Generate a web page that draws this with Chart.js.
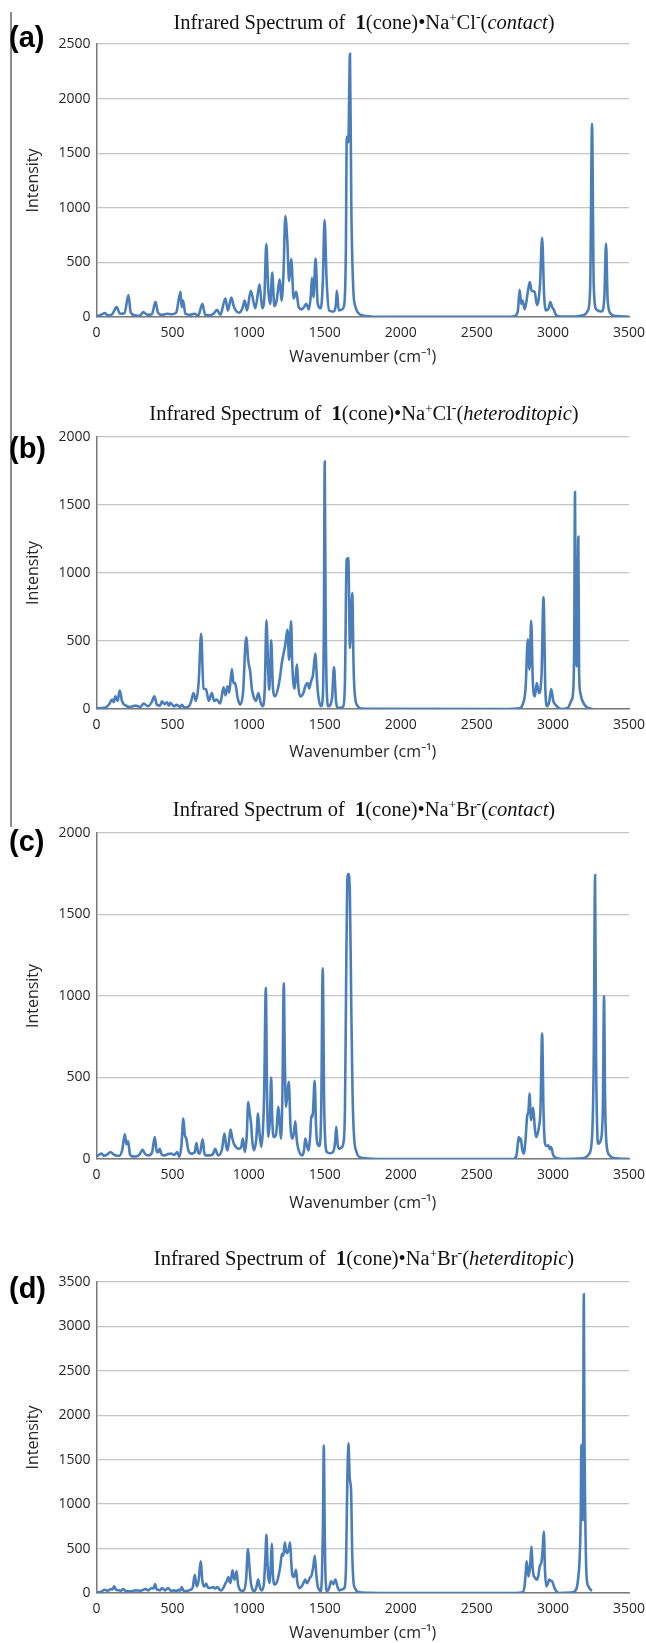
<!DOCTYPE html>
<html>
<head>
<meta charset="utf-8">
<title>Infrared spectra</title>
<script src="https://cdn.jsdelivr.net/npm/chart.js@4.4.1/dist/chart.umd.min.js"></script>
<style>
    html, body { margin: 0; padding: 0; background: #fff; }
    #page { position: relative; width: 646px; height: 1643px; overflow: hidden; }
    #page canvas { position: absolute; left: 0; }
    #side-rule { position: absolute; left: 10px; top: 12px; width: 2px; height: 815px; background: #8c8c8c; }
</style>
</head>
<body>
<div id="page">
    <div id="side-rule"></div>
    <canvas id="ir-a"></canvas>
    <canvas id="ir-b"></canvas>
    <canvas id="ir-c"></canvas>
    <canvas id="ir-d"></canvas>
</div>
<script>
// [wavenumber (cm-1), intensity]
const spectrumA = [
    [0,5],[30,20],[55,37],[73,15],[103,25],[132,90],[154,30],[184,35],[210,200],[225,40],[254,15],[284,10],
    [307,45],[334,20],[364,25],[388,140],[404,40],[434,20],[464,30],[494,25],[524,40],[552,230],[560,90],
    [569,150],[584,30],[614,20],[644,30],[669,15],[696,120],[714,20],[744,15],[769,30],[792,65],[814,20],
    [847,170],[864,60],[886,178],[904,90],[939,40],[959,80],[974,150],[989,60],[1014,240],[1044,80],
    [1072,300],[1089,80],[1104,200],[1116,667],[1129,250],[1142,120],[1155,407],[1169,100],[1184,150],
    [1204,345],[1216,150],[1229,400],[1241,924],[1254,700],[1266,330],[1280,530],[1296,170],[1313,230],
    [1329,90],[1349,70],[1364,90],[1379,120],[1396,70],[1409,200],[1416,360],[1426,180],[1440,535],
    [1454,120],[1474,80],[1487,300],[1499,888],[1512,350],[1529,60],[1559,50],[1574,120],[1580,240],
    [1592,60],[1614,70],[1629,120],[1639,600],[1645,1650],[1655,1600],[1666,2410],[1675,1000],[1688,250],
    [1703,90],[1722,35],[1750,15],[1800,5],[1900,1],[2700,1],[2750,10],[2770,60],[2781,250],[2792,120],
    [2800,150],[2815,70],[2835,230],[2848,320],[2860,240],[2880,230],[2895,110],[2905,150],[2915,300],
    [2929,725],[2942,200],[2955,60],[2972,80],[2983,138],[2995,90],[3005,70],[3020,20],[3050,5],[3150,5],
    [3200,15],[3230,60],[3245,280],[3257,1770],[3268,300],[3285,70],[3320,50],[3338,180],[3349,673],
    [3360,150],[3380,30],[3420,8],[3500,2]
];

const spectrumB = [
    [0,5],[58,10],[83,35],[102,69],[113,50],[124,93],[138,60],[153,135],[168,56],[193,25],[218,15],[258,25],
    [288,15],[310,40],[338,20],[363,50],[380,93],[398,30],[418,25],[430,56],[448,35],[463,49],[475,25],
    [485,45],[508,20],[528,30],[548,15],[561,30],[578,10],[608,20],[623,60],[638,118],[653,60],[671,190],
    [688,553],[703,150],[719,147],[738,60],[758,118],[773,60],[791,70],[813,40],[835,160],[848,100],
    [861,167],[872,120],[890,294],[900,190],[911,190],[928,80],[944,32],[963,120],[984,527],[998,350],
    [1010,277],[1021,150],[1032,93],[1048,60],[1064,118],[1078,50],[1091,20],[1106,150],[1117,652],
    [1128,300],[1135,142],[1142,300],[1148,505],[1160,150],[1174,93],[1196,167],[1208,250],[1218,338],
    [1228,400],[1239,460],[1255,583],[1266,362],[1279,644],[1286,350],[1294,190],[1303,150],[1316,326],
    [1328,150],[1338,93],[1360,118],[1373,170],[1388,190],[1398,150],[1410,203],[1423,250],[1438,407],
    [1450,200],[1458,93],[1476,20],[1488,100],[1495,700],[1500,1820],[1506,700],[1513,150],[1524,20],
    [1548,80],[1561,309],[1574,60],[1589,7],[1608,10],[1622,20],[1633,200],[1644,1098],[1655,1110],
    [1666,448],[1681,853],[1690,300],[1699,93],[1718,20],[1742,3],[1800,1],[2700,0],[2780,5],[2800,30],
    [2820,150],[2835,510],[2846,290],[2857,648],[2868,200],[2881,93],[2894,190],[2908,117],[2925,250],
    [2938,822],[2950,150],[2962,20],[2975,50],[2989,147],[3002,60],[3016,32],[3056,0],[3100,10],
    [3120,60],[3132,117],[3140,500],[3145,1596],[3150,600],[3156,313],[3162,700],[3167,1266],[3172,264],
    [3180,120],[3191,68],[3220,15],[3258,2]
];

const spectrumC = [
    [0,15],[15,25],[32,33],[50,20],[73,29],[92,43],[110,30],[127,22],[150,20],[170,60],[186,152],[197,90],
    [207,110],[220,30],[234,16],[260,15],[285,30],[302,57],[320,30],[342,22],[365,40],[383,135],[395,50],
    [405,40],[415,63],[430,25],[450,22],[470,30],[490,33],[510,25],[531,43],[544,12],[558,80],[571,248],
    [580,150],[590,125],[605,50],[625,33],[645,40],[657,98],[668,40],[679,33],[698,121],[708,40],[720,22],
    [746,22],[765,30],[781,63],[790,40],[800,22],[825,60],[841,156],[852,80],[862,53],[872,120],[881,180],
    [892,130],[903,94],[920,70],[935,63],[950,70],[962,125],[975,43],[988,150],[997,350],[1007,280],
    [1016,217],[1025,100],[1035,53],[1050,120],[1062,279],[1072,150],[1083,74],[1095,200],[1102,402],
    [1113,1051],[1121,400],[1129,135],[1140,250],[1148,500],[1155,250],[1164,135],[1180,150],[1196,320],
    [1205,200],[1213,125],[1222,400],[1231,1078],[1238,600],[1245,320],[1255,400],[1264,473],[1275,200],
    [1285,125],[1296,150],[1307,232],[1316,120],[1326,63],[1353,22],[1365,60],[1372,125],[1382,90],
    [1393,53],[1405,150],[1412,268],[1420,260],[1434,479],[1443,200],[1452,94],[1465,80],[1477,300],
    [1487,1170],[1497,300],[1514,43],[1535,35],[1555,43],[1568,100],[1576,197],[1585,90],[1595,63],
    [1610,70],[1622,94],[1633,300],[1640,1000],[1648,1700],[1655,1748],[1665,1650],[1675,900],[1683,400],
    [1692,150],[1710,40],[1730,12],[1780,3],[1850,0],[2740,0],[2760,20],[2770,100],[2776,135],[2783,110],
    [2789,125],[2798,60],[2808,33],[2820,120],[2830,258],[2840,300],[2846,402],[2856,238],[2870,316],
    [2880,200],[2889,135],[2898,150],[2908,197],[2918,300],[2929,770],[2938,300],[2948,94],[2960,80],
    [2970,84],[2980,60],[2988,74],[3000,30],[3010,12],[3064,0],[3200,5],[3239,33],[3258,150],[3268,600],
    [3277,1742],[3284,600],[3292,150],[3298,94],[3314,115],[3328,300],[3336,1000],[3343,350],[3352,94],
    [3370,25],[3401,6],[3500,0]
];

const spectrumD = [
    [0,5],[30,15],[54,37],[75,25],[94,45],[105,40],[116,75],[130,35],[148,30],[160,25],[175,45],[190,25],
    [202,19],[230,20],[256,30],[290,25],[323,45],[340,30],[363,56],[375,50],[385,101],[395,40],[404,37],
    [418,30],[431,56],[450,30],[471,56],[490,25],[511,30],[525,20],[538,37],[550,25],[560,67],[570,30],
    [579,19],[600,25],[619,37],[632,60],[646,206],[655,100],[660,75],[672,150],[680,300],[686,356],
    [695,150],[705,75],[713,80],[721,105],[730,70],[740,56],[755,60],[767,67],[780,50],[794,67],[808,40],
    [821,30],[835,60],[848,112],[858,140],[867,180],[874,130],[880,112],[887,180],[894,255],[900,200],
    [907,150],[914,200],[921,243],[930,100],[942,37],[955,25],[969,30],[983,150],[996,494],[1005,300],
    [1015,112],[1025,40],[1036,19],[1050,60],[1063,150],[1073,70],[1085,30],[1100,100],[1110,400],
    [1117,655],[1126,250],[1136,112],[1145,300],[1152,554],[1160,200],[1171,94],[1185,120],[1198,206],
    [1208,300],[1219,442],[1228,420],[1238,569],[1245,480],[1252,449],[1262,480],[1273,569],[1280,350],
    [1287,206],[1298,180],[1311,262],[1320,120],[1333,56],[1350,80],[1365,130],[1373,150],[1382,110],
    [1392,131],[1402,170],[1413,195],[1425,300],[1435,420],[1445,200],[1454,75],[1463,40],[1472,19],
    [1482,200],[1488,700],[1494,1658],[1500,700],[1506,150],[1516,19],[1530,60],[1542,131],[1556,100],
    [1570,150],[1582,80],[1596,30],[1612,40],[1629,56],[1640,300],[1648,1200],[1656,1684],[1664,1300],
    [1674,1123],[1680,500],[1688,150],[1700,50],[1723,11],[1780,3],[1850,0],[2750,0],[2800,7],[2812,60],
    [2820,200],[2827,356],[2835,250],[2840,187],[2850,300],[2859,524],[2866,300],[2872,206],[2883,170],
    [2894,150],[2905,200],[2913,300],[2925,350],[2933,500],[2940,692],[2948,250],[2956,75],[2966,100],
    [2975,150],[2984,140],[2994,131],[3002,100],[3010,56],[3025,15],[3042,0],[3120,5],[3150,30],
    [3165,150],[3177,449],[3183,900],[3187,1666],[3191,1200],[3195,823],[3199,1800],[3203,3361],
    [3207,1800],[3212,898],[3217,400],[3222,168],[3235,70],[3252,30],[3257,25]
];

const yMaxima = [2500, 2000, 2000, 3500];
const panelLetters = ['(a)', '(b)', '(c)', '(d)'];
const anions = ['Cl', 'Cl', 'Br', 'Br'];
const pairings = ['contact', 'heteroditopic', 'contact', 'heterditopic'];
const xAxisTitle = 'Wavenumber (cm\u207B\u00B9)';
const yAxisTitle = 'Intensity';

// page geometry, in px from the top of the page
const panelBoxes = [
    { top: 0,    height: 372, plotTop: 44,  plotBottom: 317,  xTitleY: 357,  titleY: 22,   letterY: 39 },
    { top: 372,  height: 393, plotTop: 437, plotBottom: 709,  xTitleY: 752,  titleY: 413,  letterY: 450 },
    { top: 765,  height: 450, plotTop: 833, plotBottom: 1159, xTitleY: 1203, titleY: 809,  letterY: 843 },
    { top: 1215, height: 428, plotTop: 1282, plotBottom: 1593, xTitleY: 1633, titleY: 1258, letterY: 1290 }
];

const BLUE = '#4a7ebb';
const SERIF = '"Liberation Serif", "Times New Roman", serif';
const AXIS_FONT = { family: '"Open Sans", sans-serif', size: 14 };
const AXIS_TITLE_FONT = { family: '"Open Sans", sans-serif', size: 16 };

Chart.defaults.font.family = '"Open Sans", sans-serif';
Chart.defaults.color = '#262626';

// title with bold "1", superscript charges and italic pairing word, plus the panel letter
const richTitle = {
    id: 'richTitle',
    afterDraw(chart, args, opts) {
        const ctx = chart.ctx;
        const runs = [
            { text: 'Infrared Spectrum of  ', font: `20.5px ${SERIF}` },
            { text: '1', font: `bold 20.5px ${SERIF}` },
            { text: '(cone)\u2022Na', font: `20.5px ${SERIF}` },
            { text: '+', font: `13px ${SERIF}`, rise: 7 },
            { text: opts.anion, font: `20.5px ${SERIF}` },
            { text: '-', font: `14px ${SERIF}`, rise: 8 },
            { text: '(', font: `20.5px ${SERIF}` },
            { text: opts.pairing, font: `italic 20.5px ${SERIF}` },
            { text: ')', font: `20.5px ${SERIF}` }
        ];
        ctx.save();
        ctx.fillStyle = '#111';
        ctx.textBaseline = 'alphabetic';
        ctx.textAlign = 'left';
        const widths = runs.map(r => { ctx.font = r.font; return ctx.measureText(r.text).width; });
        const total = widths.reduce((s, w) => s + w, 0);
        let x = opts.centerX - total / 2;
        runs.forEach((r, i) => {
            ctx.font = r.font;
            ctx.fillText(r.text, x, opts.baseline - (r.rise || 0));
            x += widths[i];
        });

        ctx.fillStyle = '#000';
        ctx.font = 'bold 29px "Liberation Sans", Arial, sans-serif';
        ctx.textBaseline = 'middle';
        ctx.fillText(opts.letter, 9, opts.letterY);
        ctx.restore();
    }
};

function buildPanel(index, spectrum) {
    const box = panelBoxes[index];
    const canvas = document.getElementById('ir-' + 'abcd'[index]);
    canvas.width = 646;
    canvas.height = box.height;
    canvas.style.top = box.top + 'px';

    const padLeft = 24;
    const plotLeft = 96.5;
    const xAxisHeight = box.height - (box.plotBottom - box.top);
    const titleLine = AXIS_TITLE_FONT.size * 1.2;

    return new Chart(canvas, {
        type: 'line',
        data: {
            datasets: [{
                data: spectrum.map(([x, y]) => ({ x, y })),
                borderColor: BLUE,
                borderWidth: 2.6,
                pointRadius: 0,
                cubicInterpolationMode: 'monotone',
                fill: false
            }]
        },
        options: {
            responsive: false,
            animation: false,
            devicePixelRatio: 1,
            layout: { padding: { left: padLeft, right: 17, top: box.plotTop - box.top, bottom: 0 } },
            plugins: {
                legend: { display: false },
                tooltip: { enabled: false },
                richTitle: {
                    centerX: 364,
                    baseline: box.titleY - box.top + 7,
                    letter: panelLetters[index],
                    letterY: box.letterY - box.top,
                    anion: anions[index],
                    pairing: pairings[index]
                }
            },
            scales: {
                x: {
                    type: 'linear',
                    min: 0,
                    max: 3500,
                    afterFit: (scale) => {
                        scale.height = xAxisHeight;
                        // let the "3500" label run into the right margin, as in the original
                        scale.paddingRight = 0;
                        scale.paddingLeft = 0;
                    },
                    grid: { display: false, drawTicks: false },
                    border: { display: true, color: '#7a7a7a', width: 1.5 },
                    ticks: {
                        stepSize: 500, padding: 8, maxRotation: 0, autoSkip: false,
                        font: AXIS_FONT, color: '#262626',
                        callback: (v) => String(v)
                    },
                    title: {
                        display: true,
                        text: xAxisTitle,
                        font: AXIS_TITLE_FONT,
                        color: '#262626',
                        padding: { top: 0, bottom: (box.top + box.height) - box.xTitleY - titleLine / 2 }
                    }
                },
                y: {
                    min: 0,
                    max: yMaxima[index],
                    afterFit: (scale) => { scale.width = plotLeft - padLeft; },
                    grid: { color: '#c4c4c4', lineWidth: 1.3, drawTicks: false },
                    border: { display: true, color: '#7a7a7a', width: 1.5 },
                    ticks: {
                        stepSize: 500, padding: 6,
                        font: AXIS_FONT, color: '#262626',
                        callback: (v) => String(v)
                    },
                    title: {
                        display: true,
                        text: yAxisTitle,
                        font: AXIS_TITLE_FONT,
                        color: '#262626',
                        padding: { top: 0, bottom: 0 }
                    }
                }
            }
        },
        plugins: [richTitle]
    });
}

[spectrumA, spectrumB, spectrumC, spectrumD].forEach((s, i) => buildPanel(i, s));
</script>
</body>
</html>
